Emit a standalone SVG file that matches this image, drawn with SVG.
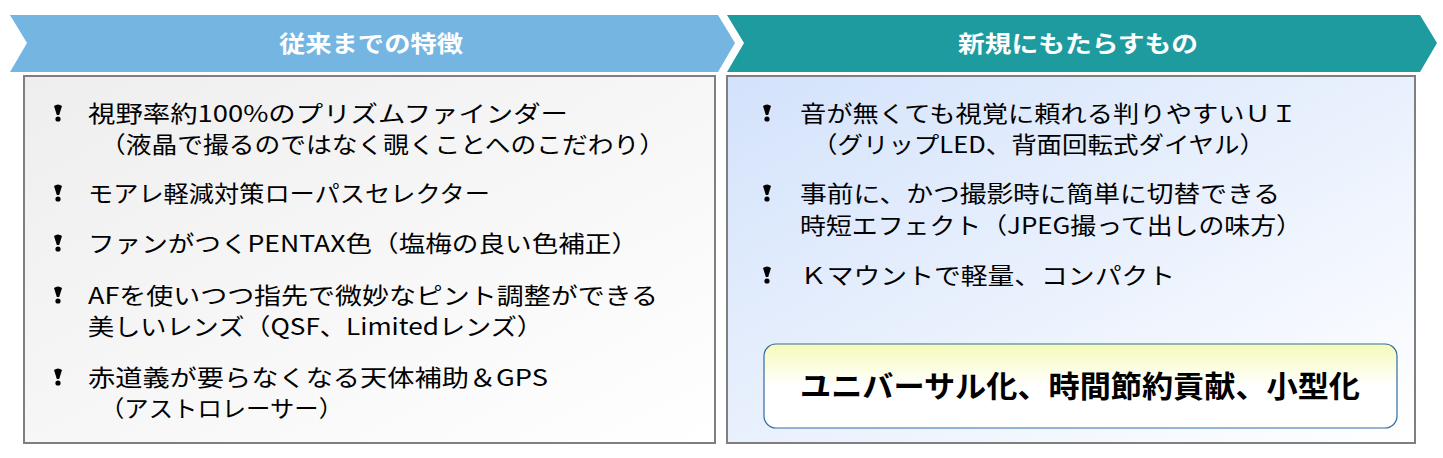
<svg xmlns="http://www.w3.org/2000/svg" width="1443" height="458" viewBox="0 0 1443 458">
<defs>
<linearGradient id="gl" x1="0" y1="0" x2="1" y2="1"><stop offset="0" stop-color="#eeeeef"/><stop offset="1" stop-color="#ffffff"/></linearGradient>
<linearGradient id="gr" x1="0" y1="0" x2="1" y2="1"><stop offset="0" stop-color="#d3e2fb"/><stop offset="1" stop-color="#ffffff"/></linearGradient>
<linearGradient id="gy" x1="0" y1="0" x2="0" y2="1"><stop offset="0" stop-color="#f6fab8"/><stop offset="0.5" stop-color="#ffffff"/></linearGradient>
<g id="b"><path d="M-4,-8 Q0,-11 4,-8 L1.2,1 L-1.2,1 Z" fill="#000"/><circle cx="0" cy="5" r="2.6" fill="#000"/></g>
</defs>
<style>
.t{font-family:"Noto Sans CJK JP","Liberation Sans",sans-serif;font-size:23px;fill:#000}
.h{font-family:"Noto Sans CJK JP","Liberation Sans",sans-serif;font-size:23px;font-weight:bold;fill:#fff}
</style>
<g id="header-left"><polygon points="10,15 718,15 735,43 718,72 10,72 27,43" fill="#75b5e2"/><text class="h" x="279" y="52" textLength="184" lengthAdjust="spacingAndGlyphs">従来までの特徴</text></g>
<g id="header-right"><polygon points="727,15 1420,15 1437,43 1420,72 727,72 744,43" fill="#1e9b9e"/><text class="h" x="958" y="52" textLength="240" lengthAdjust="spacingAndGlyphs">新規にもたらすもの</text></g>
<g id="box-left"><rect x="24" y="76" width="691" height="367" fill="url(#gl)" stroke="#7f7f7f" stroke-width="2"/>
<use href="#b" x="58" y="114"/><text class="t" x="88" y="122" textLength="480" lengthAdjust="spacingAndGlyphs">視野率約100%のプリズムファインダー</text>
<text class="t" x="100" y="153" textLength="565" lengthAdjust="spacingAndGlyphs">（液晶で撮るのではなく覗くことへのこだわり）</text>
<use href="#b" x="58" y="194"/><text class="t" x="88" y="202" textLength="402" lengthAdjust="spacingAndGlyphs">モアレ軽減対策ローパスセレクター</text>
<use href="#b" x="58" y="244"/><text class="t" x="88" y="252" textLength="550" lengthAdjust="spacingAndGlyphs">ファンがつくPENTAX色（塩梅の良い色補正）</text>
<use href="#b" x="58" y="296"/><text class="t" x="88" y="304" textLength="570" lengthAdjust="spacingAndGlyphs">AFを使いつつ指先で微妙なピント調整ができる</text>
<text class="t" x="88" y="335" textLength="455" lengthAdjust="spacingAndGlyphs">美しいレンズ（QSF、Limitedレンズ）</text>
<use href="#b" x="58" y="378"/><text class="t" x="88" y="386" textLength="460" lengthAdjust="spacingAndGlyphs">赤道義が要らなくなる天体補助＆GPS</text>
<text class="t" x="100" y="417" textLength="243" lengthAdjust="spacingAndGlyphs">（アストロレーサー）</text>
</g>
<g id="box-right"><rect x="727" y="76" width="688" height="367" fill="url(#gr)" stroke="#7f7f7f" stroke-width="2"/>
<use href="#b" x="767" y="114"/><text class="t" x="800" y="122" textLength="497" lengthAdjust="spacingAndGlyphs">音が無くても視覚に頼れる判りやすいＵＩ</text>
<text class="t" x="812" y="153" textLength="453" lengthAdjust="spacingAndGlyphs">（グリップLED、背面回転式ダイヤル）</text>
<use href="#b" x="767" y="194"/><text class="t" x="800" y="202" textLength="480" lengthAdjust="spacingAndGlyphs">事前に、かつ撮影時に簡単に切替できる</text>
<text class="t" x="800" y="234" textLength="502" lengthAdjust="spacingAndGlyphs">時短エフェクト（JPEG撮って出しの味方）</text>
<use href="#b" x="767" y="276"/><text class="t" x="800" y="284" textLength="375" lengthAdjust="spacingAndGlyphs">Ｋマウントで軽量、コンパクト</text>
</g>
<g id="summary"><rect x="764" y="344" width="633" height="84" rx="12" fill="url(#gy)" stroke="#2e6ca4" stroke-width="1.2"/>
<text x="800" y="397" textLength="560" lengthAdjust="spacingAndGlyphs" style="font-family:'Noto Sans CJK JP',sans-serif;font-size:30px;font-weight:bold;fill:#000">ユニバーサル化、時間節約貢献、小型化</text></g>
<g id="connectors"/>
</svg>
